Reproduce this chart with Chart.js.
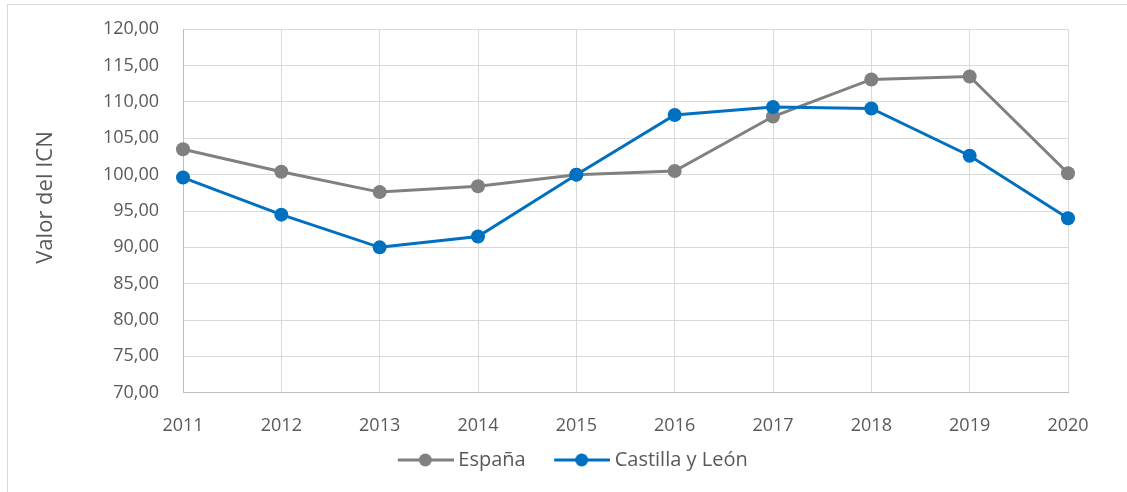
<!DOCTYPE html>
<html>
<head>
<meta charset="utf-8">
<script src="https://cdn.jsdelivr.net/npm/chart.js@4"></script>
<style>
html,body{margin:0;padding:0;background:#fff;overflow:hidden;width:1127px;height:492px;}
#frame{position:absolute;left:7px;top:4px;width:1300px;height:600px;border-top:1px solid #d9d9d9;border-left:1px solid #d9d9d9;}
canvas{position:absolute;left:0;top:0;}
</style>
</head>
<body>
<div id="frame"></div>
<canvas id="c" width="1127" height="492"></canvas>
<script>
// ---- data ----
const years = ['2011','2012','2013','2014','2015','2016','2017','2018','2019','2020'];
const espana = [103.5, 100.4, 97.6, 98.4, 100.0, 100.5, 108.0, 113.1, 113.5, 100.2];
const castillaLeon = [99.6, 94.5, 90.0, 91.5, 100.0, 108.2, 109.3, 109.1, 102.6, 94.0];
const seriesNames = ['España', 'Castilla y León'];
const yAxisTitle = 'Valor del ICN';
const yMin = 70, yMax = 120, yStep = 5;

// ---- style ----
const GREY = '#808080', BLUE = '#0070C0', TEXT = '#595959';
const FONT = "'Open Sans', 'Liberation Sans', sans-serif";

// legend marker: line with a dot, drawn right-aligned in an image with a transparent lead
function legendMarker(color){
  const cv = document.createElement('canvas');
  cv.width = 80; cv.height = 16;
  const g = cv.getContext('2d');
  g.strokeStyle = color; g.lineWidth = 3;
  g.beginPath(); g.moveTo(24, 8); g.lineTo(80, 8); g.stroke();
  g.fillStyle = color;
  g.beginPath(); g.arc(51.5, 8, 6.5, 0, Math.PI * 2); g.fill();
  return cv;
}
const markers = [legendMarker(GREY), legendMarker(BLUE)];

const yTitlePlugin = {
  id: 'yTitle',
  afterDraw(chart) {
    const ctx = chart.ctx;
    ctx.save();
    ctx.translate(46, 197.5);
    ctx.rotate(-Math.PI / 2);
    ctx.font = "22px " + FONT;
    ctx.fillStyle = TEXT;
    ctx.textAlign = 'center';
    ctx.textBaseline = 'middle';
    ctx.fillText(yAxisTitle, 0, 0);
    ctx.restore();
  }
};

new Chart(document.getElementById('c'), {
  type: 'line',
  data: {
    labels: years,
    datasets: [
      { label: seriesNames[0], data: espana, borderColor: GREY, backgroundColor: GREY,
        borderWidth: 3, pointRadius: 7, pointHoverRadius: 7, pointBorderWidth: 0, tension: 0, order: 1 },
      { label: seriesNames[1], data: castillaLeon, borderColor: BLUE, backgroundColor: BLUE,
        borderWidth: 3, pointRadius: 7, pointHoverRadius: 7, pointBorderWidth: 0, tension: 0, order: 0 }
    ]
  },
  plugins: [yTitlePlugin],
  options: {
    responsive: false,
    animation: false,
    devicePixelRatio: 1,
    layout: { padding: { left: 0, right: 0, top: 29.3, bottom: 12 } },
    plugins: {
      tooltip: { enabled: false },
      legend: {
        position: 'bottom',
        labels: {
          usePointStyle: true,
          pointStyleWidth: 69,
          boxHeight: 20,
          padding: 10,
          color: TEXT,
          font: { family: FONT, size: 20 },
          generateLabels(chart) {
            return chart.data.datasets.map((ds, i) => ({
              text: ds.label, fillStyle: ds.borderColor, strokeStyle: ds.borderColor,
              lineWidth: 0, pointStyle: markers[i], hidden: false, datasetIndex: i, fontColor: TEXT
            }));
          }
        }
      }
    },
    scales: {
      x: {
        type: 'category',
        offset: false,
        grid: { color: '#d9d9d9', lineWidth: 1, drawTicks: false },
        border: { color: '#bfbfbf', width: 1 },
        ticks: { color: TEXT, font: { family: FONT, size: 18 }, padding: 22, maxRotation: 0, autoSkip: false },
        afterFit(s) { s.height = 47.3; }
      },
      y: {
        min: yMin, max: yMax,
        grid: { color: '#d9d9d9', lineWidth: 1, drawTicks: true, tickLength: 20, tickColor: 'rgba(0,0,0,0)' },
        border: { color: '#bfbfbf', width: 1 },
        ticks: {
          stepSize: yStep, color: TEXT, font: { family: FONT, size: 18 }, padding: 4,
          callback: v => v.toFixed(2).replace('.', ',')
        },
        afterFit(s) { s.width = 183; }
      },
      y2: {
        position: 'right', display: true,
        grid: { display: false, drawOnChartArea: false },
        border: { display: false },
        ticks: { display: false },
        afterFit(s) { s.width = 59; }
      }
    }
  }
});
</script>
</body>
</html>
